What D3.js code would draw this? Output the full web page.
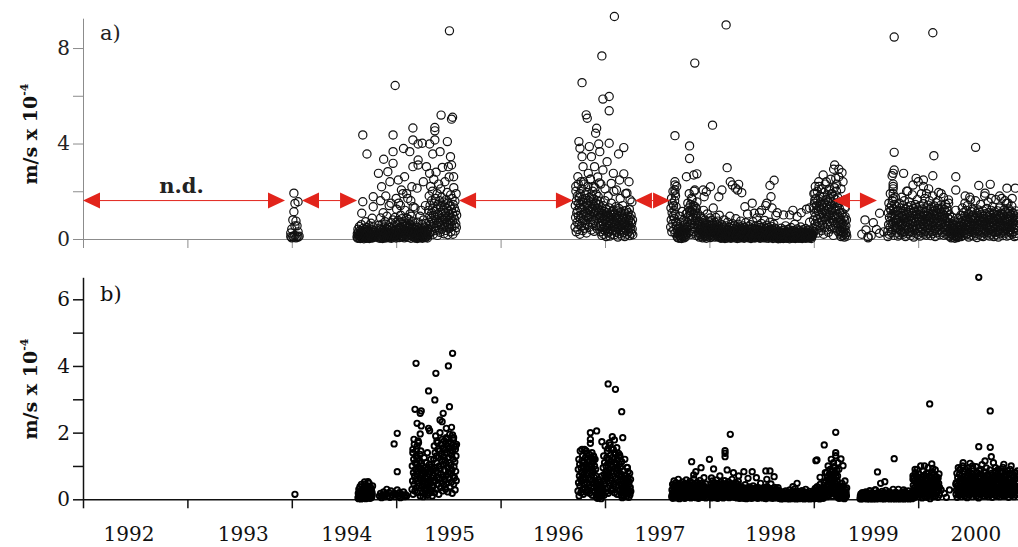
<!DOCTYPE html>
<html><head><meta charset="utf-8">
<script src="https://cdn.jsdelivr.net/npm/d3@7"></script>
<style>
html,body{margin:0;padding:0;background:#fff;}
svg{display:block;}
</style></head>
<body><svg id="chart" width="1018" height="547"></svg>
<script>
// All flux values are in units of 1e-6 m/s; the axes are labelled in 1e-4 m/s.
// Daily blocks: one value per day, starting at the given decimal year.
const DAY = 1 / 365.25;

const yearTicks = [1992, 1993, 1994, 1995, 1996, 1997, 1998, 1999, 2000, 2001];
const yearLabels = ["1992", "1993", "1994", "1995", "1996", "1997", "1998", "1999", "2000"];
const yearLabelPos = [1992.44, 1993.535, 1994.526, 1995.512, 1996.553, 1997.527, 1998.588, 1999.570, 2000.552];

const aTicks = [0, 200, 400, 600, 800];
const bTicks = [0, 100, 200, 300, 400, 500, 600];

// periods without data (panel a)
const noDataGaps = [[1992.0, 1993.935], [1994.098, 1994.625], [1995.602, 1996.693], [1997.287, 1997.623], [1999.184, 1999.605]];

// ---------- panel a: daily blocks ----------
const aStarts = [1994.625, 1994.826, 1996.713, 1997.629, 1999.711];
const aBlock1 = [8,22,3,41,15,30,5,18,52,11,26,2,36,14,9,60,20,4,33,12,
 24,7,45,16,1,28,10,39,6,19,72,13,27,3,48,17,8,31,22,5,
 35,11,55,2,25,14,42,9,20,66,6,29,15,38,4,21,12,50,7,26,10,34,18];
const aBlock2 = [10,34,5,58,20,12,45,3,26,88,15,40,8,22,62,18,2,36,110,14,
 28,6,50,19,9,72,30,4,24,44,13,95,21,7,38,16,55,11,27,140,
 5,33,17,48,10,25,68,3,20,42,12,31,80,8,23,15,
 20,55,8,90,32,14,68,4,40,125,25,60,12,36,78,18,150,45,6,28,
 70,15,50,100,22,9,42,85,30,16,62,190,11,38,74,24,5,52,120,34,
 19,66,10,46,88,27,58,13,170,35,7,48,82,21,64,29,105,16,40,3,
 56,95,26,44,12,72,33,135,18,50,
 8,25,4,40,15,30,6,55,20,11,35,2,48,18,70,9,28,14,42,5,
 22,95,12,32,7,45,17,26,60,3,38,13,24,80,10,33,19,50,6,27,
 15,65,21,8,36,12,44,4,30,18,
 40,120,70,180,25,95,140,60,220,85,30,160,110,50,200,75,130,20,100,250,
 65,150,35,115,90,170,45,280,80,125,55,190,15,105,145,68,230,38,98,160,
 72,28,135,210,58,112,88,175,42,300,78,120,50,155,22,95,138,62,240,84,
 110,36,165,70,128,48,195,92,18,150,60,118,80,260,44,102,140,66,185,30,
 88,125,52,170,74,108,20,145,96,215,56,130,82,158,34,116,64,190,48,100];
const aBlock3 = [50,140,90,200,30,160,110,70,180,120,40,230,95,150,60,175,130,20,190,85,
 145,100,55,210,125,165,75,35,155,105,240,80,135,45,185,115,65,170,95,150,
 25,195,110,140,60,220,88,160,120,48,175,100,135,70,250,115,155,38,180,92,
 128,62,200,145,105,78,168,32,138,112,215,85,150,55,188,122,98,160,42,130,
 108,178,68,145,90,235,118,52,158,100,
 30,90,55,120,15,75,105,40,140,65,20,95,115,50,80,160,35,100,60,10,
 125,45,85,110,25,70,180,55,95,30,130,78,12,105,62,88,42,150,20,98,
 68,115,35,82,122,48,200,72,18,108,58,92,38,135,66,28,100,80,52,118,
 8,88,45,128,70,22,96,60,170,40,112,76,15,102,56,84,34,140,64,92,
 26,118,48,74,10,106,60,190,36,86,120,54,20,96,68,44,110,30,82,58,
 125,14,90,50,72,38,100,24,66,155,42,80,18];
const aBlock4 = [50,130,80,170,30,110,150,65,200,95,140,40,120,85,160,25,105,180,70,135,55,220,
 12,40,6,65,25,18,50,3,32,95,15,45,8,28,70,20,2,38,115,14,30,55,10,22,80,5,35,60,17,42,9,26,105,19,48,
 40,110,70,150,25,95,130,55,190,85,120,35,100,145,60,20,115,80,165,45,125,90,140,30,105,200,65,118,50,135,75,98,15,128,88,155,58,108,70,
 15,50,28,75,8,40,62,20,95,35,12,55,30,85,18,45,5,68,25,120,
 38,14,58,22,80,10,48,32,65,3,42,26,105,18,52,9,36,72,24,60,
 16,44,88,6,34,56,20,78,30,12,46,64,25,130,38,15,54,28,70,8,
 42,22,90,33,18,60,10,48,27,75,36,14,52,24,100,40,
 6,25,12,45,3,30,18,60,9,38,22,5,50,15,33,80,11,27,2,42,
 20,8,55,14,35,26,4,70,17,40,10,28,48,6,22,95,13,36,19,3,
 52,25,9,32,16,64,7,44,21,12,30,58,5,24,38,14,85,20,10,46,
 28,2,34,18,62,8,40,23,13,50,4,29,16,75,11,36,20,6,44,26,
 15,55,9,32,19,3,48,24,12,38,68,7,27,17,42,10,22,105,14,35,
 5,28,52,18,8,40,24,13,60,2,31,20,46,11,26,15,72,6,36,21,
 9,43,16,4,54,25,12,33,19,88,7,40,23,14,30,6,57,18,10,37,
 27,3,48,15,22,65,11,34,20,8,42,26,16,5,50,24,13,78,9,31,
 19,44,4,28,14,58,21,10,36,17,3,47,25,12,32,70,8,39,22,15,
 6,53,26,11,41,18,2,35,20,62,9,29,16,45,13,24,98,7,38,23,
 3,14,6,25,1,18,9,32,4,12,22,2,28,8,16,45,5,20,11,35,
 7,24,2,15,38,10,19,4,27,13,55,6,21,9,30,3,17,12,40,5,
 23,8,14,33,1,19,26,10,6,48,15,22,3,29,11,18,7,36,13,4,
 25,9,62,16,2,20,31,8,12,24,5,42,14,19,6,27,10,3,35,17,
 8,22,13,50,4,26,11,18,2,33,15,7,39,20,9,14,28,5,23,12,
 44,3,17,30,8,21,13,6,37,16,10,25,4,18,70,11,20,7,29,14,
 2,24,9,34,15,19,
 45,130,80,190,30,150,110,65,220,95,170,40,140,120,55,200,85,160,25,115,
 240,70,135,100,180,50,155,90,125,35,210,75,145,105,60,175,130,20,195,88,
 150,118,48,230,82,165,108,38,140,92,185,62,125,158,28,205,98,135,72,170,
 112,52,250,88,142,120,42,190,78,155,100,15,178,128,68,215,95,148,58,165,
 122,85,200,45,138,105,175,32,152,90,260,70,128,110,
 20,60,35,85,10,48,70,28,110,42,15,65,30,90,22,52,8,75,38,130,18,55,26,80,12];
const aBlock5 = [35,110,60,150,20,90,130,50,190,75,120,28,140,95,65,160,40,105,220,70,125,15,85,145,55,100,175,45,115,80,135,
 25,80,50,120,12,70,100,40,150,60,18,90,130,35,75,110,55,175,28,95,
 65,140,20,85,115,45,160,30,100,72,10,125,58,88,200,38,105,68,135,22,
 80,112,48,155,30,92,62,120,15,78,140,42,98,66,185,26,108,52,128,8,
 86,116,36,70,145,56,96,24,132,74,104,44,165,18,88,60,122,34,102,80,
 138,12,70,114,50,92,190,28,76,126,40,100,64,148,20,84,110,54,170,32,
 94,72,130,16,82,118,46,98,62,142,24,88,106,38,160,58,76,124,14,92,
 66,134,30,104,48,180,22,86,116,56,72,138,36,96,10,120,64,152,44,84,
 108,26,128,70,100,52,195,34,90,122,18,78,112,60,142,40,94,68,130,28,
 82,104,50,174,16,98,124,62,86,38,146,74,20,110,56,132,44,90,118,30,66,150,12,84,102,58,
 12,40,22,65,5,30,52,18,90,35,8,45,60,25,14,75,38,3,55,28,120,10,42,20,68,32,6,48,16,85,26,58,11,36,22,
 20,70,40,100,10,55,85,30,130,50,15,75,110,35,62,95,45,150,25,80,
 55,120,18,68,92,38,140,22,82,60,8,105,48,72,175,30,88,56,115,16,
 66,96,40,125,26,78,52,100,12,64,118,34,84,58,160,22,90,44,108,6,
 72,98,30,60,122,46,80,20,112,62,88,36,145,14,74,50,104,28,86,68,
 118,10,58,94,42,76,180,24,64,106,32,84,54,128,16,70,92,46,155,26,
 80,60,110,12,68,100,38,82,52,120,20,74,90,32,135,48,64,106,10,78,
 56,114,26,88,40,165,18,72,98,48,62,118,30,82,8,102,54,130,36,70,
 92,22,108,58,84,44,170,28,76,104,14,66,96,50,122,34,80,56,112,24,
 70,88,42,150,12,84,106,52,74,32,126,62,16,94,48,114,38,76,100,26,
 58,138,20,86,66,110,30,72,44,98,10,60,84,46,118,24,78,56,92,14,70,104,36];

// ---------- panel a: individual readings [decimal year, value] ----------
const aEvents = [
 [1993.99,10],[1993.99,25],[1994.00,5],[1994.00,42],[1994.01,80],[1994.01,12],[1994.02,192],[1994.02,114],[1994.02,8],
 [1994.03,149],[1994.03,55],[1994.03,15],[1994.04,75],[1994.04,5],[1994.06,156],[1994.05,55],[1994.05,10],[1994.06,30],[1994.06,8],[1994.07,12],
 [1994.68,436],[1994.72,356],[1994.78,177],[1994.68,156],[1994.78,135],[1994.67,108],[1994.77,87],
 [1995.51,872],[1994.99,643],[1995.43,519],[1995.53,502],[1995.54,510],[1995.16,465],[1995.37,467],[1995.37,453],[1994.97,436],
 [1995.21,398],[1995.25,401],[1995.32,398],[1995.37,415],[1995.49,408],[1995.07,379],[1994.97,366],[1994.88,334],[1995.16,415],
 [1995.13,366],[1995.21,331],[1995.35,356],[1995.42,366],[1994.83,275],[1994.92,282],[1994.97,317],[1995.02,247],[1995.08,261],
 [1995.16,303],[1995.21,310],[1995.29,303],[1995.50,303],[1995.52,345],[1995.55,261],[1995.53,310],[1994.86,219],[1994.94,240],
 [1995.05,205],[1995.15,219],[1995.20,213],[1995.26,240],[1995.32,275],[1994.85,160],[1994.90,180],[1994.95,150],[1995.00,170],
 [1995.04,140],[1995.10,190],[1995.14,160],[1995.18,130],[1995.24,120],[1995.28,140],
 [1997.09,932],[1996.97,767],[1996.78,655],[1997.04,597],[1996.98,586],[1997.04,537],[1996.82,520],[1996.83,506],[1996.92,464],
 [1996.91,443],[1996.75,408],[1996.85,387],[1996.94,398],[1997.04,401],[1997.18,383],[1997.13,356],[1996.76,380],[1996.78,345],
 [1996.87,345],[1996.95,366],[1997.02,324],[1996.79,303],[1996.90,303],[1996.98,289],[1997.08,275],[1997.18,273],[1997.23,240],
 [1997.14,247],[1996.74,261],[1996.84,275],[1997.06,233],[1997.11,205],[1997.21,192],[1997.24,164],[1996.72,220],[1996.77,240],
 [1996.80,230],[1996.86,250],[1996.89,220],[1996.93,260],[1996.96,230],[1997.00,210],
 [1998.16,897],[1997.86,737],[1998.03,477],[1997.67,433],[1997.81,390],[1997.81,337],[1998.17,299],[1997.78,261],[1997.85,268],
 [1997.88,273],[1997.67,240],[1997.67,226],[1997.67,205],[1997.67,192],[1997.94,205],[1998.01,219],[1998.20,240],[1998.22,226],
 [1998.28,229],[1998.31,194],[1998.12,205],[1998.09,177],[1998.58,224],[1998.62,246],[1998.59,177],[1998.54,140],[1998.41,150],
 [1998.43,108],[1998.34,135],[1998.71,101],[1998.77,101],[1998.93,125],[1998.84,94],[1999.09,268],[1999.19,292],[1999.24,292],
 [1999.27,278],[1999.21,254],[1999.01,192],[1999.01,164],[1999.30,164],[1999.30,135],[1999.30,94],[1997.83,171],[1997.86,205],
 [1997.95,177],[1997.97,198],[1998.25,213],[1998.27,205],[1998.50,120],[1998.55,150],[1998.48,110],[1998.60,130],[1998.65,110],
 [1998.80,120],[1998.88,110],[1998.96,130],[1999.05,220],[1999.12,240],[1999.15,210],[1999.17,190],[1999.22,230],[1999.26,210],[1999.20,310],[1999.28,240],
 [1999.49,80],[1999.50,38],[1999.52,10],[1999.52,5],[1999.63,108],[1999.57,68],[1999.63,24],[1999.71,10],[1999.46,20],
 [1999.55,15],[1999.60,40],[1999.67,30],
 [1999.77,846],[2000.14,864],[1999.77,363],[2000.15,349],[2000.55,384],[1999.77,289],[1999.76,275],[1999.75,265],[1999.86,275],
 [1999.98,254],[2000.05,247],[2000.14,265],[2000.36,261],[2000.36,205],[2000.58,224],[2000.69,229],[2000.85,213],[2000.93,213],
 [2000.50,164],[2000.64,192],[1999.76,230],[1999.76,210],[1999.76,190],[1999.76,170],[2000.00,240],[2000.05,220],[2000.08,190],[2000.19,160],
 [2000.22,190],[2000.83,160],[2000.86,150],[2000.78,180],[1999.95,226],[2000.29,164],[2000.45,180],[2000.70,170],[2000.90,170],[1999.90,200],[2000.10,210]
];

// ---------- panel b: daily blocks ----------
const bStarts = [1994.634, 1995.151, 1996.741, 1997.639, 1998.006, 1998.676, 1998.992, 1999.443, 1999.950, 2000.362];
const bBlock1 = [5,18,2,30,10,22,4,38,14,8,26,1,45,12,20,6,33,9,16,28,
 3,24,11,52,7,19,35,2,15,27,9,41,13,5,22,17,30,4,12,48,
 8,25,14,3,36,19,10,29,6,21,13,40];
const bBlock2 = [30,100,55,140,15,80,120,45,165,70,25,110,90,60,130,35,150,75,105,20,85,125,50,170,95,40,115,65,135,10,90,145,58,108,78,
 20,70,40,100,8,55,85,30,125,50,15,78,95,35,62,110,25,88,45,140,12,68,92,38,75,18,105,58,30,82,48,120,22,65,98,40,10,72,52,90,
 40,120,70,160,20,95,140,55,190,85,30,130,110,65,170,45,150,80,125,15,
 100,145,60,200,90,35,135,75,165,50,115,180,25,105,155,68,128,42,175,88,
 118,58,148,30,108,185,72,138,48,160,95,22,125,82,152,62,110,195,38,140,
 78,102,168,52,132,88,18,145,70,120,178,45,98,158,65,112,28,150,84,130,
 56,165];
const bBlock3 = [25,90,50,120,10,70,105,40,145,60,20,95,80,55,115,30,130,65,100,15,
 75,110,45,150,85,35,125,60,95,22,105,138,50,78,118,28,92,65,112,42,
 135,18,85,102,58,125,35,98,72,140,12,88,110,48,82,128,38,66,100,25,
 120,55,90,70,
 8,30,15,48,3,22,40,12,60,25,6,35,18,52,10,28,45,2,38,20,70,14,32,
 30,95,55,130,12,75,110,45,160,68,22,100,85,60,125,35,145,72,108,18,
 82,118,50,170,90,40,132,64,102,26,114,150,56,84,126,32,98,70,120,46,
 140,20,92,110,62,135,38,104,78,155,15,94,118,52,88,138,42,72,106,28,
 128,60,96,76,
 12,45,25,68,5,35,55,20,85,30,10,50,40,28,62,15,72,38,48,8,58,22,95,33,18,65,42,6,52,26,78,14,36,60,24];
const bBlock4 = [8,28,14,45,3,22,38,10,55,18,32,6,42,25,12,50,20,35,4,28,
 16,44,9,60,24,13,38,2,30,19,48,11,26,40,7,34,22,15,52,5,
 29,18,43,10,36,24,3,47,14,31,20,58,8,27,39,12,22,46,6,33,
 17,41,25,11,54,19,30,4,37,23,14,49,9,28,42,16,21,62,7,35,
 26,12,44,18,31,5,39,24,15,51,10,29,36,20,3,45,27,13,33,57,
 8,40,22,16,48,11,30,25,6,43,19,34,14,65,9,38,23,17,28,4,
 46,21];
const bBlock5 = [10,30,16,45,4,24,38,12,55,20,34,7,42,27,14,50,22,36,5,29,
 18,46,10,58,25,14,39,3,31,20,48,12,27,41,8,35,23,16,52,6,
 30,19,44,11,37,25,4,47,15,32,21,56,9,28,40,13,23,45,7,34,
 18,42,26,12,53,20,31,5,38,24,15,48,10,29,43,17,22,60,8,36,
 27,13,45,19,32,6,40,25,16,50,11,30,37,21,4,46,28,14,34,54,
 6,20,11,32,3,17,27,8,38,14,24,5,30,19,10,35,15,26,3,21,
 12,33,7,44,18,9,28,2,22,14,34,8,19,29,5,25,16,11,37,4,
 21,13,31,8,26,17,3,33,10,23,15,40,6,20,28,9,16,32,5,24,
 13,30,18,8,36,14,22,3,27,17,10,34,7,21,30,12,15,48,5,25,
 19,9,31,13,23,4,28,18,11,35,8,21,26,15,2,32,20,10,24,38,
 6,29,16,12,34,8,22,18,4,30,14,25,10,46,7,27,17,12,20,3,
 33,15,9,26,19,5,36,13,22,8,28,16,11,30,4,24,18,7,35,12,
 21,27,3,17,9];
const bBlock6 = [3,11,6,18,1,9,15,4,22,8,13,2,17,10,5,20,7,14,3,12,
 25,6,10,16,2,19,8,13,4,21,11,6,15,1,28,9,12,5,18,7,
 14,3,23,10,6,16,2,12,20,8,4,15,11,32,5,17,9,1,13,7,
 19,3,10,24,6,14,8,2,17,11,5,21,9,13,4,15,7,26,3,12,
 18,6,10,1,16,8,22,4,13,9,30,5,11,17,2,14,7,20,10,3,
 15,6,12,24,8,1,18,11,5,14,9,19,3,13,7];
const bBlock7 = [4,15,8,26,2,12,22,6,33,10,18,3,28,14,7,38,11,20,5,16,
 30,9,24,1,13,45,6,19,11,27,4,15,35,8,21,12,3,29,17,50,
 7,23,10,16,32,
 15,55,30,80,8,45,68,22,100,38,12,60,75,28,50,90,18,65,40,120,
 25,58,85,10,48,72,35,110,20,62,42,95,15,52,78,30,66,45,88,24,
 56,70,
 6,20,10,32,3,15,26,8,40,13,22,4,35,17,9,48,12,28,5,19,
 38,11,24,2,16,55,7,30,14,21,10,34];
const bBlock8 = [2,10,5,16,1,8,13,3,20,7,11,2,15,9,4,18,6,12,3,10,
 22,5,9,14,1,17,7,12,3,19,10,5,13,1,26,8,11,4,16,6,
 12,2,20,9,5,14,1,11,18,7,3,13,10,28,4,15,8,1,12,6,
 17,3,9,21,5,12,7,2,15,10,4,19,8,11,3,14,6,24,2,10,
 16,5,9,1,14,7,20,3,12,8,27,4,10,15,2,13,6,18,9,3,
 13,5,11,22,7,1,16,10,4,12,8,17,3,11,6,2,14,9,5,19,
 7,12,1,15,10,4,21,6,13,3,9,16,2,11,30,5,14,8,1,12,
 17,4,10,6,20,3,13,8,2,15,11,5,18,7,1,12,9,23,4,14,
 6,10,2,16,8,3,13,11,5,25,7,12,1,17,9,4,14,6,19,3,
 11,8,2,15,10];
const bBlock9 = [12,42,25,65,5,35,55,18,80,30,10,48,70,22,38,90,15,60,28,45,
 8,52,75,20,40,62,32,100,14,50,26,68,4,44,58,18,85,34,24,72,
 10,46,30,64,16,55,38,78,6,42,22,60,28,95,12,50,36,70,20,48,
 2,58,32,66,14,40,26,82,18,54,44,8,62,30,74,16,46,34,88,10,
 52,24,68,38,20,56,42,6,64,28,48,76,14,36];
const bBlock10 = [15,50,28,78,6,40,65,20,95,32,12,55,75,25,45,88,18,62,35,8,
 70,48,22,100,38,14,58,82,30,42,68,10,52,26,90,36,18,64,46,5,
 74,28,56,20,84,40,12,60,32,108,24,50,70,16,44,78,34,8,62,26,
 92,38,54,18,72,30,48,14,66,40,98,22,58,10,80,34,46,24,68,4,
 52,36,86,20,42,64,28,14,76,48,32,104,18,56,38,70,24,10,60,44,
 82,30,50,16,66,22,94,40,12,58,34,74,26,46,8,70,38,54,20,88,
 30,62,14,48,78,24,42,6,66,36,52,110,18,58,28,72,40,12,84,32,
 46,22,64,34,10,76,50,26,90,16,44,60,30,8,68,38,54,20,80,28,
 42,14,62,36,96,24,48,70,10,56,32,82,18,44,66,26,12,74,40,52,
 20,86,34,58,6,64,28,46,78,16,38,60,24,100,12,50,30,72,42,18,
 56,34,68,8,44,26,80,22,62,36,14,48,28,54,18,70,32];

// ---------- panel b: individual readings [decimal year, value] ----------
const bEvents = [
 [1994.03,15],[1994.73,53],[1994.70,45],
 [1994.84,10],[1994.85,18],[1994.86,5],[1994.87,12],[1994.88,22],[1994.89,8],[1994.90,15],[1994.91,30],[1994.92,10],
 [1994.93,20],[1994.94,6],[1994.95,25],[1994.96,12],[1994.98,166],[1995.01,83],[1994.98,18],[1994.99,8],[1995.01,198],
 [1995.00,15],[1995.01,28],[1995.02,10],[1995.03,20],[1995.04,5],[1995.05,15],[1995.06,12],[1995.07,22],[1995.08,8],
 [1995.09,14],[1995.10,10],
 [1995.54,438],[1995.19,408],[1995.50,400],[1995.38,378],[1995.31,325],[1995.37,298],[1995.51,278],[1995.18,270],[1995.24,265],
 [1995.23,258],[1995.45,258],[1995.42,238],[1995.44,233],[1995.20,228],[1995.24,220],[1995.31,213],[1995.32,206],[1995.48,213],
 [1995.53,216],[1995.54,193],[1995.23,196],[1995.39,175],[1995.48,180],[1995.50,170],[1995.16,150],[1995.20,160],[1995.17,180],
 [1995.21,175],[1995.55,185],[1995.57,160],
 [1997.03,346],[1997.10,330],[1997.16,263],[1996.86,200],[1996.92,205],[1996.86,180],[1996.86,168],[1996.97,173],[1997.07,188],
 [1997.09,178],[1997.17,185],[1997.16,113],[1997.21,96],[1997.22,83],[1997.05,163],[1997.03,153],[1996.89,130],[1996.89,120],
 [1997.08,150],[1997.14,133],[1996.78,150],[1996.82,145],[1997.19,120],
 [1998.20,195],[1998.15,146],[1998.15,138],[1998.15,128],[1998.00,120],[1997.83,113],[1997.92,95],[1997.87,83],[1997.85,73],
 [1998.04,91],[1998.02,64],[1998.33,83],[1998.41,83],[1998.54,85],[1998.58,85],[1998.37,63],[1998.55,60],[1998.17,88],
 [1998.23,80],[1998.10,70],[1998.28,70],[1998.45,65],[1998.62,68],
 [1999.21,201],[1999.10,163],[1999.03,118],[1999.02,116],[1999.21,140],[1999.21,131],[1999.26,121],[1999.28,101],[1999.19,98],
 [1999.11,80],[1999.06,66],[1998.84,48],[1998.80,38],[1999.23,110],[1999.18,85],[1999.24,90],
 [2000.11,286],[2000.69,265],[2000.58,158],[2000.69,156],[2000.70,128],[2000.43,110],[2000.64,115],[2000.82,105],[2000.93,80],
 [1999.77,122],[1999.61,82],[1999.64,48],[1999.68,53],[1999.97,90],[2000.06,100],[2000.13,106],[2000.14,93],[2000.10,78],
 [2000.18,58],[1999.59,28],[1999.76,30],[1999.86,28],[1999.95,60],[1999.95,70],
 [2000.58,666],
 [2000.22,28],[2000.27,6],[2000.30,28],[2000.36,45],[2000.25,18],
 [2000.40,90],[2000.48,95],[2000.52,100],[2000.60,90],[2000.74,95],[2000.80,85],[2000.88,90],[2000.95,85]
];

// ---------- assemble ----------
function expand(starts, blocks) {
  return blocks.flatMap((vals, k) => vals.map((v, i) => [starts[k] + i * DAY, v]));
}
const aPoints = expand(aStarts, [aBlock1, aBlock2, aBlock3, aBlock4, aBlock5]).concat(aEvents);
const bPoints = expand(bStarts, [bBlock1, bBlock2, bBlock3, bBlock4, bBlock5, bBlock6, bBlock7, bBlock8, bBlock9, bBlock10]).concat(bEvents);

const svg = d3.select("#chart");
const SERIF = "'DejaVu Serif', 'Liberation Serif', serif";
const fmt = d => String(d / 100);

const x = d3.scaleLinear().domain([1992, 2001]).range([83, 1022.6]);
const yA = d3.scaleLinear().domain([0, 925]).range([239, 18.2]);
const yB = d3.scaleLinear().domain([0, 666]).range([499.3, 277.3]);

// ----- panel a -----
const gA = svg.append("g");
const axA = gA.append("g").attr("transform", `translate(0,${yA(0)})`)
  .call(d3.axisBottom(x).tickValues(yearTicks).tickFormat("").tickSize(9).tickSizeOuter(0));
const ayA = gA.append("g").attr("transform", `translate(${x(1992)},0)`)
  .call(d3.axisLeft(yA).tickValues(aTicks).tickSize(10).tickPadding(3).tickSizeOuter(0)
    .tickFormat(d => d % 400 === 0 ? fmt(d) : ""));
[axA, ayA].forEach(g => {
  g.selectAll("path,line").attr("stroke", "#8c8c8c").attr("stroke-width", 1);
  g.selectAll("text").style("font-family", SERIF).style("font-size", "20px").attr("fill", "#222");
});

gA.append("g").selectAll("circle").data(aPoints).join("circle")
  .attr("cx", d => x(d[0])).attr("cy", d => yA(d[1])).attr("r", 4.1)
  .attr("fill", "none").attr("stroke", "#111").attr("stroke-width", 1.2);

// no-data arrows
const RED = "#e2241b";
const arrowY = yA(161);
const TW = 17, TH = 8;
const gArr = gA.append("g");
noDataGaps.forEach(([s, e]) => {
  const x1 = x(s), x2 = x(e);
  if (x2 - x1 > 2 * TW) {
    gArr.append("line").attr("x1", x1 + TW).attr("x2", x2 - TW)
      .attr("y1", arrowY).attr("y2", arrowY).attr("stroke", RED).attr("stroke-width", 1);
  }
  gArr.append("path").attr("fill", RED)
    .attr("d", `M${x1},${arrowY}L${x1 + TW},${arrowY - TH}L${x1 + TW},${arrowY + TH}Z`);
  gArr.append("path").attr("fill", RED)
    .attr("d", `M${x2},${arrowY}L${x2 - TW},${arrowY - TH}L${x2 - TW},${arrowY + TH}Z`);
});
gA.append("text").attr("x", x(1992.943)).attr("y", yA(193)).attr("text-anchor", "middle")
  .style("font-family", SERIF).style("font-size", "21px").style("font-weight", "bold")
  .attr("fill", "#222").text("n.d.");
gA.append("text").attr("x", x(1992.163)).attr("y", yA(833))
  .style("font-family", SERIF).style("font-size", "21px").attr("fill", "#222").text("a)");

// ----- panel b -----
const gB = svg.append("g");
const axB = gB.append("g").attr("transform", `translate(0,${yB(0)})`)
  .call(d3.axisBottom(x).tickValues(yearTicks).tickFormat("").tickSize(9).tickSizeOuter(0));
const ayB = gB.append("g").attr("transform", `translate(${x(1992)},0)`)
  .call(d3.axisLeft(yB).tickValues(bTicks).tickSize(10).tickPadding(3).tickSizeOuter(0)
    .tickFormat(d => d % 200 === 0 ? fmt(d) : ""));
[axB, ayB].forEach(g => {
  g.selectAll("path,line").attr("stroke", "#111").attr("stroke-width", 1.5);
  g.selectAll("text").style("font-family", SERIF).style("font-size", "20px").attr("fill", "#111");
});

gB.append("g").selectAll("circle").data(bPoints).join("circle")
  .attr("cx", d => x(d[0])).attr("cy", d => yB(d[1])).attr("r", 2.7)
  .attr("fill", "none").attr("stroke", "#000").attr("stroke-width", 1.9);

gB.append("text").attr("x", x(1992.163)).attr("y", yB(595))
  .style("font-family", SERIF).style("font-size", "21px").attr("fill", "#111").text("b)");

// year labels under the lower panel
gB.append("g").selectAll("text").data(yearLabels).join("text")
  .attr("x", (d, i) => x(yearLabelPos[i])).attr("y", 541).attr("text-anchor", "middle")
  .style("font-family", SERIF).style("font-size", "20px").attr("fill", "#111").text(d => d);

// y-axis titles
function yTitle(cy) {
  const t = svg.append("text").attr("transform", `translate(37,${cy}) rotate(-90)`)
    .attr("text-anchor", "middle").style("font-family", SERIF).style("font-size", "19px")
    .style("font-weight", "bold").attr("fill", "#111");
  t.append("tspan").text("m/s x 10");
  t.append("tspan").attr("dy", -9).style("font-size", "11px").text("-4");
}
yTitle(134);
yTitle(389);
</script>
</body></html>
